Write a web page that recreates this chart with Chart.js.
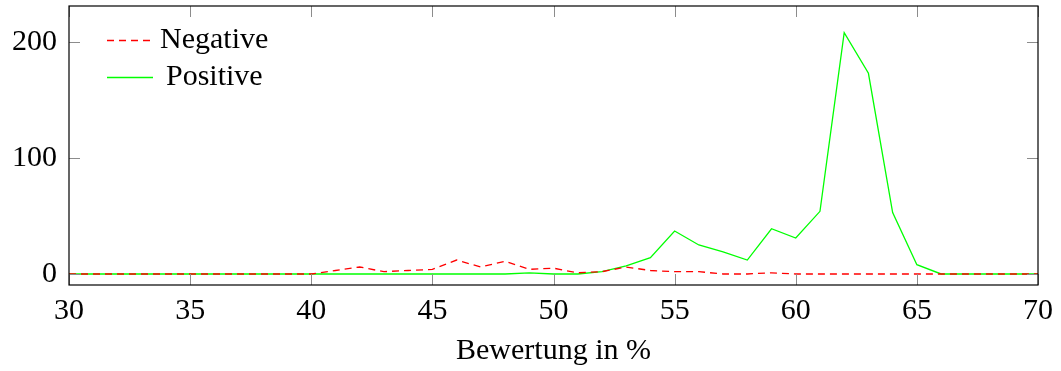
<!DOCTYPE html>
<html>
<head>
<meta charset="utf-8">
<script src="https://cdn.jsdelivr.net/npm/chart.js@4"></script>
<style>
  html, body { margin: 0; padding: 0; background: #fff; }
  #wrap { width: 1061px; height: 371px; }
</style>
</head>
<body>
<div id="wrap"><canvas id="myChart" width="1061" height="371"></canvas></div>
<script>
const ratings = [30, 31, 32, 33, 34, 35, 36, 37, 38, 39, 40, 41, 42, 43, 44, 45, 46, 47, 48, 49, 50,
  51, 52, 53, 54, 55, 56, 57, 58, 59, 60, 61, 62, 63, 64, 65, 66, 67, 68, 69, 70];
const negative = [0, 0, 0, 0, 0, 0, 0, 0, 0, 0, 0, 3, 6, 2, 3, 4, 12, 6, 11, 4, 5,
  1, 2, 6, 3, 2, 2, 0, 0, 1, 0, 0, 0, 0, 0, 0, 0, 0, 0, 0, 0];
const positive = [0, 0, 0, 0, 0, 0, 0, 0, 0, 0, 0, 0, 0, 0, 0, 0, 0, 0, 0, 1, 0,
  0, 2, 7, 14, 37, 25, 19, 12, 39, 31, 54, 208, 173, 53, 8, 0, 0, 0, 0, 0];
const xTicks = [30, 35, 40, 45, 50, 55, 60, 65, 70];
const yTicks = [0, 100, 200];
const seriesNames = ['Negative', 'Positive'];

const FONT = 'Liberation Serif';

const toPoints = (vals) => ratings.map((x, i) => ({ x: x, y: vals[i] }));

// frame, inward ticks and the legend box like pgfplots
const frame = {
  id: 'frame',
  afterDatasetsDraw(chart) {
    const { ctx, chartArea: a, scales } = chart;
    ctx.save();
    ctx.strokeStyle = '#8c8c8c';
    ctx.lineWidth = 1;
    const len = 11;
    xTicks.forEach((v) => {
      const px = Math.round(scales.x.getPixelForValue(v)) + 0.5;
      ctx.beginPath();
      ctx.moveTo(px, a.bottom); ctx.lineTo(px, a.bottom - len);
      ctx.moveTo(px, a.top); ctx.lineTo(px, a.top + len);
      ctx.stroke();
    });
    yTicks.forEach((v) => {
      const py = Math.round(scales.y.getPixelForValue(v)) + 0.5;
      ctx.beginPath();
      ctx.moveTo(a.left, py); ctx.lineTo(a.left + len, py);
      ctx.moveTo(a.right, py); ctx.lineTo(a.right - len, py);
      ctx.stroke();
    });
    ctx.strokeStyle = '#000';
    ctx.lineWidth = 1.2;
    ctx.strokeRect(a.left, a.top, a.right - a.left, a.bottom - a.top);

    // legend
    ctx.font = '30px "' + FONT + '"';
    ctx.fillStyle = '#000';
    ctx.textBaseline = 'alphabetic';
    chart.data.datasets.forEach((ds, i) => {
      const y = a.top + 34 + i * 37;
      ctx.strokeStyle = ds.borderColor;
      ctx.lineWidth = ds.borderWidth;
      ctx.setLineDash(ds.borderDash || []);
      ctx.beginPath();
      ctx.moveTo(a.left + 38, y + 0.5);
      ctx.lineTo(a.left + 84, y + 0.5);
      ctx.stroke();
      ctx.setLineDash([]);
      ctx.fillText(ds.label, a.left + (i === 0 ? 91 : 97), y + 8);
    });
    ctx.restore();
  }
};

new Chart('myChart', {
  type: 'line',
  data: {
    datasets: [{
      label: seriesNames[0],
      data: toPoints(negative),
      borderColor: '#ff0000',
      borderWidth: 1.3,
      borderDash: [7, 5],
      pointRadius: 0,
      tension: 0,
      fill: false
    }, {
      label: seriesNames[1],
      data: toPoints(positive),
      borderColor: '#00ff00',
      borderWidth: 1.3,
      pointRadius: 0,
      tension: 0,
      fill: false
    }]
  },
  options: {
    responsive: false,
    animation: false,
    layout: { padding: { left: 0, right: 23, top: 6, bottom: 0 } },
    plugins: {
      legend: { display: false },
      tooltip: { enabled: false }
    },
    scales: {
      x: {
        type: 'linear',
        min: 30,
        max: 70,
        grid: { display: false, drawTicks: false },
        border: { display: false },
        ticks: {
          stepSize: 5,
          padding: 8,
          color: '#000',
          maxRotation: 0,
          font: { family: FONT, size: 30 }
        },
        title: {
          display: true,
          text: 'Bewertung in %',
          color: '#000',
          font: { family: FONT, size: 30 },
          padding: { top: 0, bottom: 2 }
        },
        afterFit(scale) {
          scale.height = 86;
          scale.paddingLeft = 0;
          scale.paddingRight = 0;
        }
      },
      y: {
        min: -9.5,
        max: 231,
        grid: { display: false, drawTicks: false },
        border: { display: false },
        ticks: {
          stepSize: 100,
          includeBounds: false,
          padding: 12,
          color: '#000',
          font: { family: FONT, size: 30 }
        },
        afterFit(scale) {
          scale.width = 69;
          scale.paddingTop = 0;
          scale.paddingBottom = 0;
        }
      }
    }
  },
  plugins: [frame]
});
</script>
</body>
</html>
